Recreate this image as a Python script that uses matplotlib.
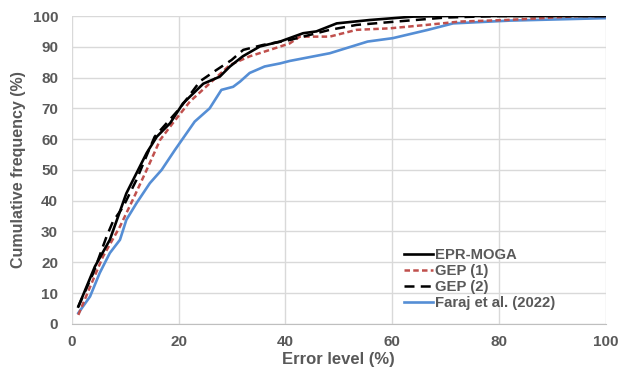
import matplotlib.pyplot as plt
from matplotlib import ticker

plt.rcParams['font.family'] = ['Liberation Sans', 'DejaVu Sans']

# error level (%) vs cumulative frequency (%)
epr_x = [1.2, 4.3, 7.1, 10.2, 14.0, 15.9, 18.4, 20.8, 24.6, 27.7, 29.6, 32.0, 35.2, 39.0,
         43.3, 45.8, 49.6, 55.8, 63.9, 70, 100]
epr_y = [5.6, 18.6, 27.3, 42.4, 55.5, 60.8, 65.2, 71.6, 78.0, 80.3, 83.6, 86.9, 90.1, 91.7,
         94.4, 95.0, 97.6, 98.7, 99.8, 100, 100]

gep1_x = [1.2, 3.4, 5.8, 9.0, 11.4, 14.0, 16.5, 18.9, 22.1, 25.8, 29.6, 33.3, 37.1, 40.8,
          42.7, 48.3, 53.3, 59.6, 66.4, 72.7, 81.4, 87.0, 95, 100]
gep1_y = [2.9, 12.0, 21.8, 31.6, 40.3, 50.0, 59.7, 65.2, 72.2, 78.1, 84.1, 86.9, 89.0, 91.1,
          93.3, 93.3, 95.5, 96.0, 97.1, 98.2, 98.7, 99.2, 100, 100]

gep2_x = [1.2, 4.0, 6.5, 7.7, 9.6, 12.1, 14.2, 15.5, 17.7, 20.2, 24.0, 27.1, 29.9, 32.1,
          35.8, 40.8, 48.3, 53.3, 60.8, 70, 80, 100]
gep2_y = [5.6, 16.5, 28.4, 33.3, 38.0, 46.8, 55.5, 60.8, 65.1, 70.0, 78.8, 82.5, 85.7, 89.0,
          90.6, 92.2, 95.5, 97.1, 98.2, 99.5, 100, 100]

faraj_x = [1.2, 3.4, 5.2, 7.1, 9.0, 10.2, 12.1, 14.6, 16.8, 19.3, 23.0, 25.8, 28.0, 30.2,
           31.5, 33.3, 36.1, 39.0, 40.8, 48.3, 55.4, 60.1, 66.7, 71.4, 82.0, 100]
faraj_y = [3.5, 8.9, 16.5, 23.0, 27.3, 33.8, 39.2, 45.7, 50.0, 56.5, 65.7, 70.0, 76.0, 77.0,
           78.7, 81.5, 83.6, 84.6, 85.4, 87.9, 91.7, 92.8, 95.5, 97.6, 98.5, 99.3]

grey = '#595959'

fig = plt.figure(figsize=(6.2, 3.81), dpi=100)
ax = fig.add_axes([0.116, 0.150, 0.861, 0.808])

ax.plot(epr_x, epr_y, color='black', lw=1.9, label='EPR-MOGA', zorder=5)
ax.plot(gep1_x, gep1_y, color='#C0504D', lw=1.8, ls=(0, (2.2, 1.3)), label='GEP (1)', zorder=4)
ax.plot(gep2_x, gep2_y, color='black', lw=1.8, ls=(0, (4, 2.5)), label='GEP (2)', zorder=4)
ax.plot(faraj_x, faraj_y, color='#558ED5', lw=1.9, label='Faraj et al. (2022)', zorder=3)

ax.set_xlim(0, 100)
ax.set_ylim(0, 100)
ax.xaxis.set_major_locator(ticker.MultipleLocator(20))
ax.yaxis.set_major_locator(ticker.MultipleLocator(10))
ax.grid(True, color='#D9D9D9', lw=1.0)
ax.set_axisbelow(True)

for side in ['top', 'right', 'left']:
    ax.spines[side].set_visible(False)
ax.spines['bottom'].set_color('#BFBFBF')
ax.tick_params(axis='x', length=0, labelsize=11, labelcolor=grey, pad=8)
ax.tick_params(axis='y', length=0, labelsize=11, labelcolor=grey, pad=10)
for lab in ax.get_xticklabels() + ax.get_yticklabels():
    lab.set_fontweight('bold')

ax.set_xlabel('Error level (%)', fontsize=12, fontweight='bold', color=grey, labelpad=2)
ax.set_ylabel('Cumulative frequency (%)', fontsize=11.5, fontweight='bold', color=grey, labelpad=5)

leg = ax.legend(loc='lower right', bbox_to_anchor=(0.93, 0.0), frameon=False,
                handlelength=1.9, handletextpad=0.15, labelspacing=0.15,
                prop={'weight': 'bold', 'size': 10.7})
for t in leg.get_texts():
    t.set_color(grey)

fig.savefig('out.png', dpi=100)
